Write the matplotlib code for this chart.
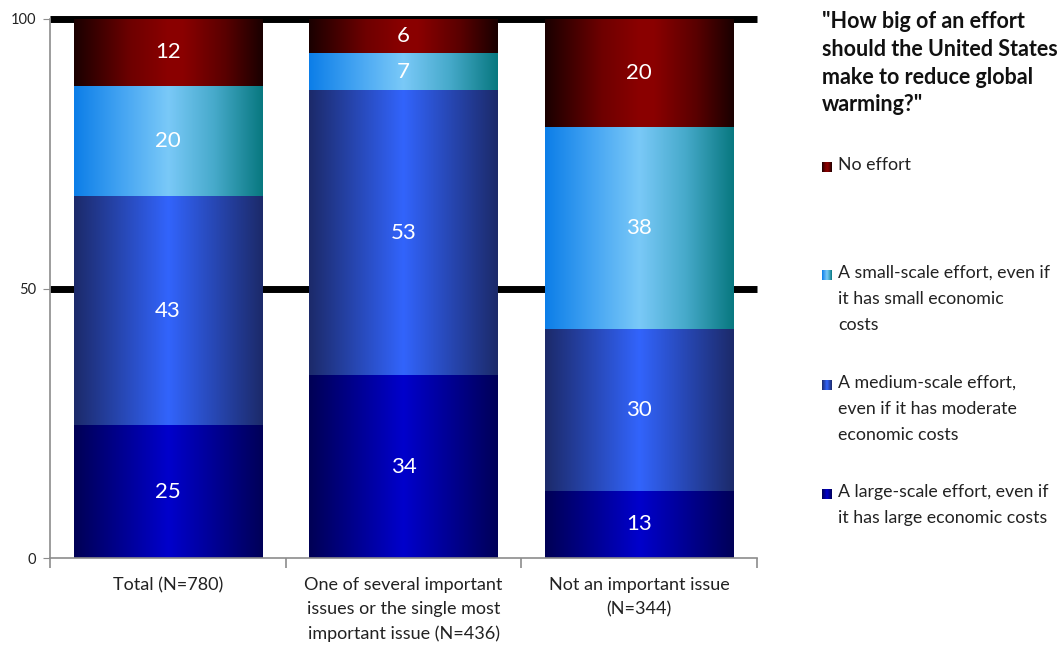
import numpy as np
import matplotlib
matplotlib.use("Agg")
import matplotlib.pyplot as plt
from matplotlib.colors import LinearSegmentedColormap
from decimal import Decimal, ROUND_HALF_UP

plt.rcParams['font.family'] = ['Lato', 'DejaVu Sans']

categories = ["Total (N=780)",
              "One of several important\nissues or the single most\nimportant issue (N=436)",
              "Not an important issue\n(N=344)"]
large = [24.6, 33.9, 12.5]
medium = [42.6, 52.9, 30.0]
small = [20.4, 6.9, 37.5]
none_ = [12.4, 6.3, 20.0]

series_names = ["A large-scale effort, even if\nit has large economic costs",
                "A medium-scale effort,\neven if it has moderate\neconomic costs",
                "A small-scale effort, even if\nit has small economic\ncosts",
                "No effort"]
series_values = [large, medium, small, none_]
yticks = [0, 50, 100]
title = '"How big of an effort\nshould the United States\nmake to reduce global\nwarming?"'

grad_stops = [
    [(0, "#000055"), (0.5, "#0000cc"), (1, "#000058")],
    [(0, "#1c2a6a"), (0.5, "#3264fc"), (1, "#1c2a6a")],
    [(0, "#0c7ee8"), (0.25, "#44a4f2"), (0.5, "#7ac9f8"), (0.75, "#45a9c9"), (1, "#087880")],
    [(0, "#1a0000"), (0.3, "#6e0000"), (0.5, "#8b0000"), (0.58, "#8a0000"), (0.8, "#5a0000"), (1, "#1a0000")],
]
cmaps = [LinearSegmentedColormap.from_list(f"g{i}", s) for i, s in enumerate(grad_stops)]
grad = np.linspace(0, 1, 256).reshape(1, -1)

W, H = 1062, 645
fig = plt.figure(figsize=(W / 100, H / 100), dpi=100)
ax = fig.add_axes([50 / W, 1 - 558 / H, (757 - 50) / W, (558 - 19) / H])
ax.set_xlim(-0.5, 2.5)
ax.set_ylim(0, 100)

# thick gridlines behind bars
for yv in [50, 100]:
    ax.axhline(yv, color="black", lw=5.0, zorder=1, clip_on=False,
               solid_capstyle="butt")

x = np.arange(len(categories))
bottom = np.zeros(len(categories))
width = 0.8
for vals, cm in zip(series_values, cmaps):
    vals = np.array(vals)
    tops = np.minimum(bottom + vals, 100)
    bars = ax.bar(x, tops - bottom, width, bottom=bottom, color="none",
                  edgecolor="none", zorder=2)
    for xi, rect, b, t, v in zip(x, bars.patches, bottom, tops, vals):
        im = ax.imshow(grad, cmap=cm, aspect="auto",
                       extent=(xi - width / 2, xi + width / 2, b, t),
                       zorder=2, interpolation="bilinear")
        im.set_clip_path(rect)
        lbl = str(Decimal(str(v)).quantize(Decimal("1"), rounding=ROUND_HALF_UP))
        ax.text(xi, (b + t) / 2, lbl, ha="center", va="center",
                color="white", fontsize=16, zorder=4)
    bottom = tops

ax.set_xlim(-0.5, 2.5)
ax.set_ylim(0, 100)

for s in ["top", "right"]:
    ax.spines[s].set_visible(False)
for s in ["left", "bottom"]:
    ax.spines[s].set_color("#8c8c8c")
    ax.spines[s].set_linewidth(1.2)
    ax.spines[s].set_zorder(3)

ax.set_yticks(yticks)
ax.set_yticklabels([str(v) for v in yticks], fontsize=10.5, color="#222222")
ax.tick_params(axis="y", length=5, color="#8c8c8c", pad=5)

ax.set_xticks(x)
ax.set_xticklabels(categories, fontsize=13, color="#222222", linespacing=1.6, va="top")
ax.tick_params(axis="x", which="major", length=0, pad=14)
ax.set_xticks([-0.5, 0.5, 1.5, 2.5], minor=True)
ax.tick_params(axis="x", which="minor", length=7, color="#8c8c8c", width=1.2)

# legend area
def fx(px):
    return px / W

def fy(py):
    return 1 - py / H

fig.text(fx(822), fy(11), title, fontsize=15.5, fontweight="bold", color="#111111",
         ha="left", va="top", linespacing=1.4)

legend_y = [167, 275, 385, 494]  # first line centre, top-to-bottom order
legend_order = [3, 2, 1, 0]
for py, idx in zip(legend_y, legend_order):
    sq = fig.add_axes([fx(822), fy(py + 5), 10 / W, 10 / H])
    sq.imshow(grad, cmap=cmaps[idx], aspect="auto", extent=(0, 1, 0, 1))
    sq.set_axis_off()
    fig.text(fx(838), fy(py - 10), series_names[idx], fontsize=12.8, color="#222222",
             ha="left", va="top", linespacing=1.75)

fig.savefig("out.png", dpi=100)
